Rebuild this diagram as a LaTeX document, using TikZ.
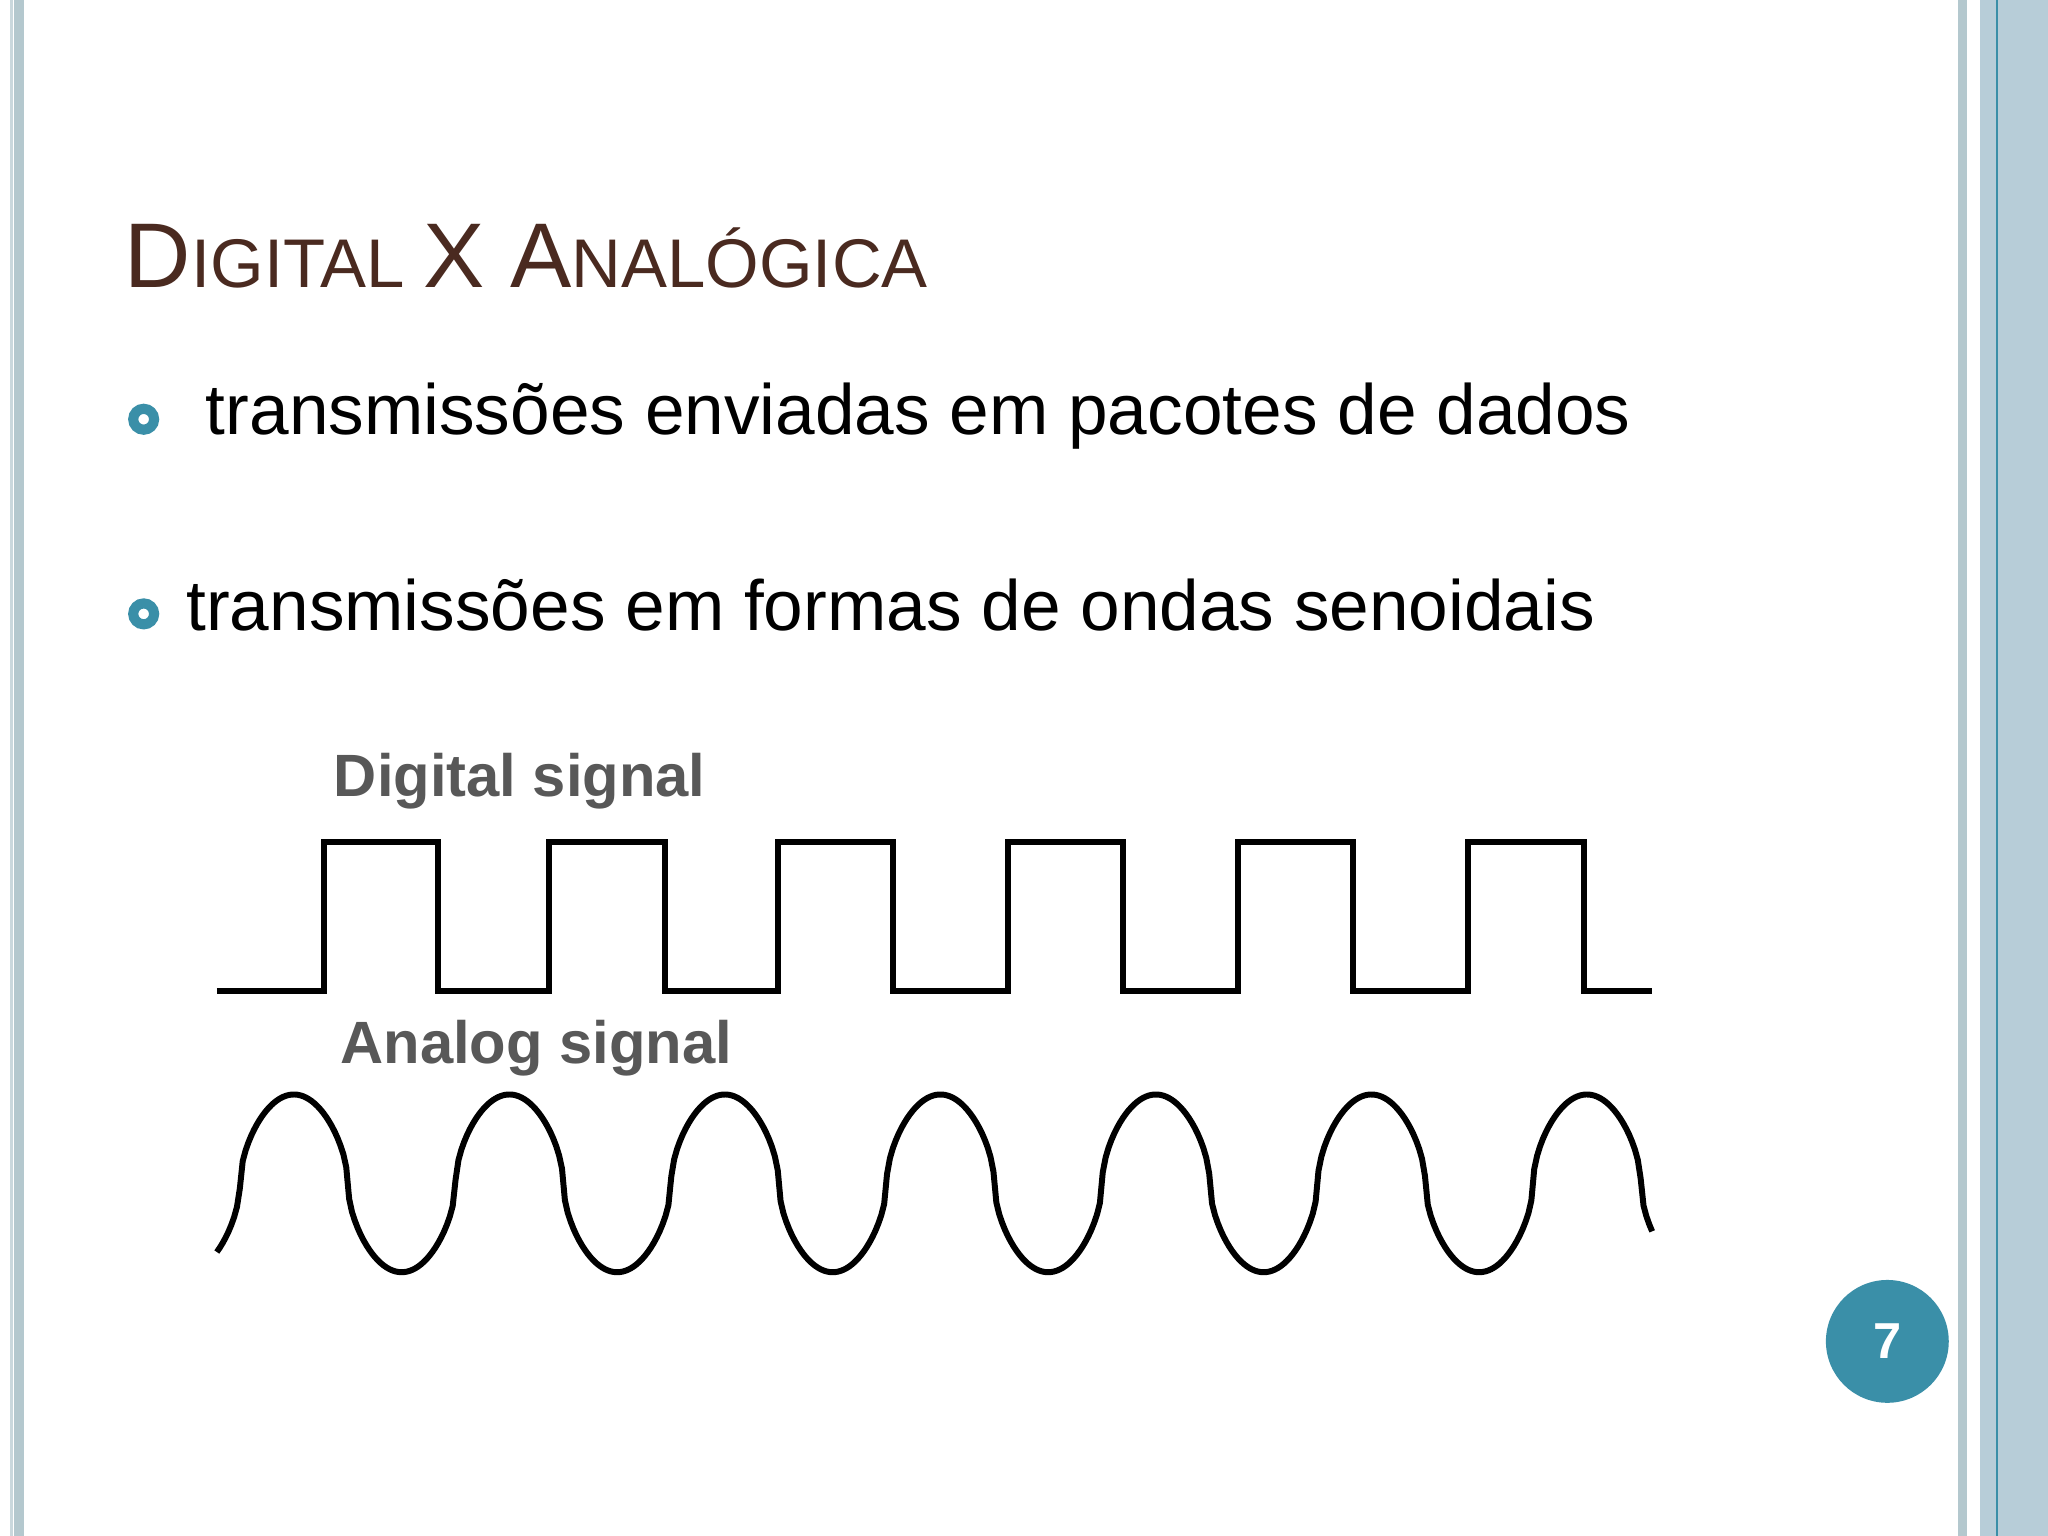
\documentclass[tikz,border=0pt]{standalone}
\usepackage{fontspec}
\setmainfont{Liberation Sans}
\definecolor{titlec}{HTML}{4A2A20}
\definecolor{teal}{HTML}{3A8FA8}
\definecolor{stripg}{HTML}{B4C8CE}
\definecolor{stripb}{HTML}{B7CDD8}
\definecolor{labg}{HTML}{585858}
\begin{document}
\begin{tikzpicture}[x=0.01cm,y=-0.01cm,
  sig/.style={line width=1.3pt,black,line join=miter},
  lab/.style={anchor=base west,inner sep=0,text=labg,font=\bfseries\fontsize{13}{15}\selectfont},
  body/.style={anchor=base west,inner sep=0,font=\fontsize{15.5}{18}\selectfont},
  bul/.style={circle,draw=teal,line width=2.2pt,minimum size=0.16cm,inner sep=0}]
\fill[white] (0,0) rectangle (1568,1176);
\useasboundingbox (0,0) rectangle (1568,1176);
% borders
\fill[stripg] (11,0) rectangle (18,1176);
\fill[stripg!70] (8,0) rectangle (10,1176);
\fill[stripg] (1499,0) rectangle (1506,1176);
\fill[stripb] (1516,0) rectangle (1568,1176);
\fill[teal] (1528,0) rectangle (1530,1176);
% title
\node[anchor=base west,inner sep=0,text=titlec] (title) at (95,220)
 {\fontsize{20}{24}\selectfont D\fontsize{15}{18}\selectfont IGITAL \fontsize{20}{24}\selectfont X A\fontsize{15}{18}\selectfont NALÓGICA};
% bullets
\node[bul] (b1) at (110,321) {};
\node[body] (t1) at (157,333) {transmissões enviadas em pacotes de dados};
\node[bul] (b2) at (110,470) {};
\node[body] (t2) at (142,483) {transmissões em formas de ondas senoidais};
% labels
\node[lab] (dl) at (255,610) {Digital signal};
\node[lab] (al) at (260,814) {Analog signal};
% digital
\draw[sig] (166,759) -- (248,759) -- (248,645) -- (335,645) -- (335,759)
 -- (420,759) -- (420,645) -- (509,645) -- (509,759)
 -- (596,759) -- (596,645) -- (684,645) -- (684,759)
 -- (772,759) -- (772,645) -- (860,645) -- (860,759)
 -- (948,759) -- (948,645) -- (1036,645) -- (1036,759)
 -- (1124,759) -- (1124,645) -- (1213,645) -- (1213,759) -- (1265,759);
% analog
\draw[sig,line join=round] plot[domain=-128.7:2269,samples=500,variable=\t]
 ({225+\t*0.45833},{906-68*sign(cos(\t))*exp(0.55*ln(abs(cos(\t))+0.001))});
% page number
\node[circle,fill=teal,minimum size=0.94cm,inner sep=0,text=white,font=\bfseries\fontsize{11}{13}\selectfont] (pg) at (1445,1027) {7};
\end{tikzpicture}
\end{document}
